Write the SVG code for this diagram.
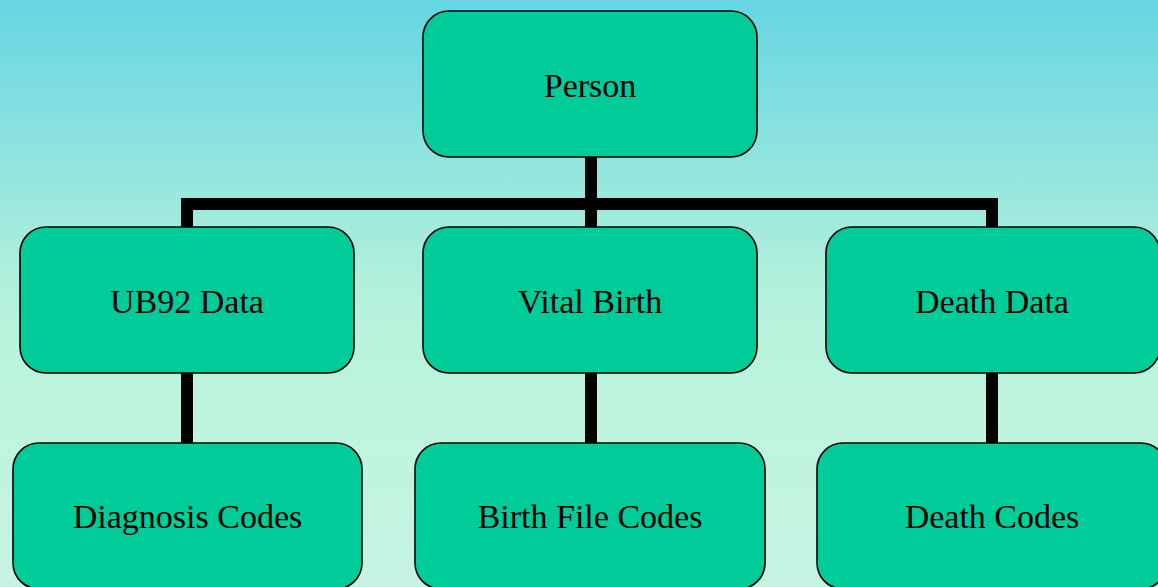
<svg xmlns="http://www.w3.org/2000/svg" width="1158" height="587" viewBox="0 0 1158 587">
<defs>
<linearGradient id="bg" x1="0" y1="0" x2="0" y2="1">
<stop offset="0" stop-color="#66d5e3"/>
<stop offset="0.5" stop-color="#b4f1db"/>
<stop offset="0.7" stop-color="#bef5dd"/>
<stop offset="1" stop-color="#c6f3e2"/>
</linearGradient>
<style>
.box{fill:#00cc99;stroke:#000;stroke-width:1.6}
.lbl{font-family:"Liberation Serif","Times New Roman",serif;font-size:34px;fill:#000;text-anchor:middle}
.con{fill:none;stroke:#000;stroke-width:12;stroke-linejoin:miter;stroke-linecap:butt}
</style>
</defs>
<rect x="0" y="0" width="1158" height="587" fill="url(#bg)"/>
<g id="connectors">
<path class="con" d="M187,227 V204 H992 V227"/>
<path class="con" d="M591,157 V227"/>
<path class="con" d="M187,373 V443"/>
<path class="con" d="M591,373 V443"/>
<path class="con" d="M992,373 V443"/>
</g>
<g id="person">
<rect class="box" x="423" y="11" width="334" height="146" rx="26"/>
<text class="lbl" x="590" y="97">Person</text>
</g>
<g id="ub92">
<rect class="box" x="20" y="227" width="334" height="146" rx="26"/>
<text class="lbl" x="187" y="313">UB92 Data</text>
</g>
<g id="vitalbirth">
<rect class="box" x="423" y="227" width="334" height="146" rx="26"/>
<text class="lbl" x="590" y="313">Vital Birth</text>
</g>
<g id="deathdata">
<rect class="box" x="826" y="227" width="334" height="146" rx="26"/>
<text class="lbl" x="992" y="313">Death Data</text>
</g>
<g id="diagnosis">
<rect class="box" x="13" y="443" width="349" height="146" rx="26"/>
<text class="lbl" x="187.5" y="528">Diagnosis Codes</text>
</g>
<g id="birthfile">
<rect class="box" x="415" y="443" width="350" height="146" rx="26"/>
<text class="lbl" x="590" y="528">Birth File Codes</text>
</g>
<g id="deathcodes">
<rect class="box" x="817" y="443" width="350" height="146" rx="26"/>
<text class="lbl" x="992" y="528">Death Codes</text>
</g>
</svg>
